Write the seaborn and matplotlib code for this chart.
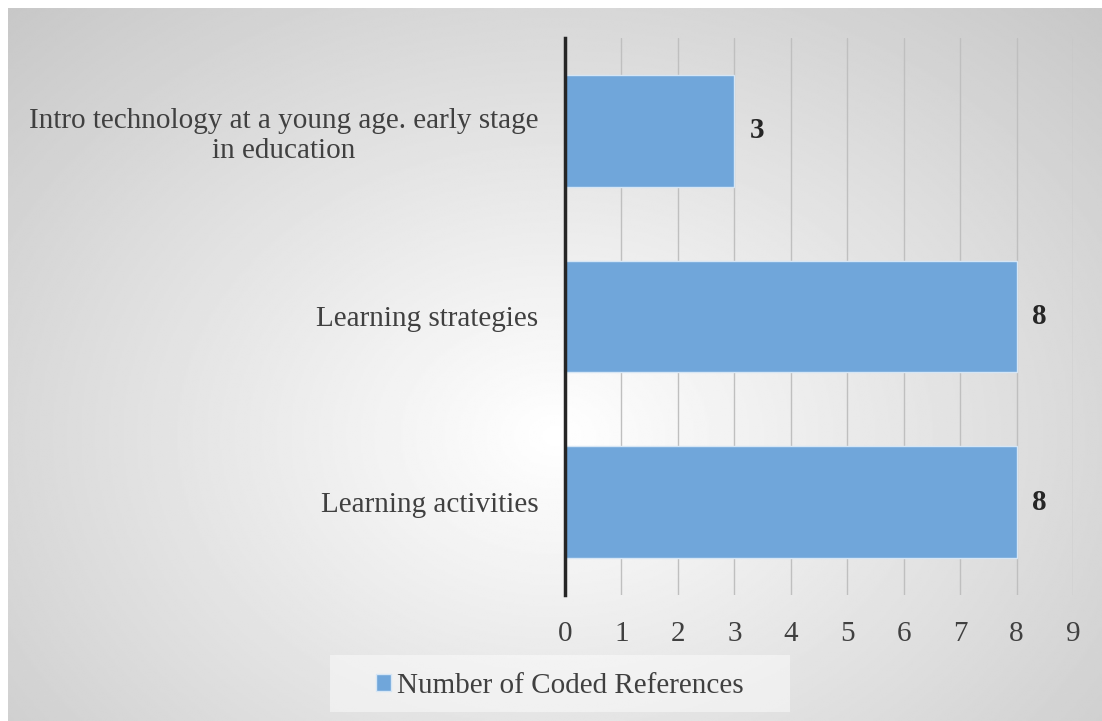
import numpy as np
import pandas as pd
import seaborn as sns
import matplotlib.pyplot as plt
from matplotlib.patches import Rectangle

# data
categories = ["Intro technology at a young age. early stage\nin education",
              "Learning strategies",
              "Learning activities"]
values = [3, 8, 8]
series_name = "Number of Coded References"
x_ticks = list(range(0, 10))

df = pd.DataFrame({"category": categories, "refs": values})

sns.set_theme(style="white")
plt.rcParams["font.family"] = ["Liberation Serif", "DejaVu Serif"]

fig = plt.figure(figsize=(11.02, 7.21), dpi=100)

# radial grey gradient behind the chart
bg = fig.add_axes([8 / 1102, 0, 1 - 8 / 1102, 1 - 8 / 721])
yy, xx = np.mgrid[0:1:400j, 0:1:600j]
d = np.sqrt(((xx - 0.5) / 0.72) ** 2 + ((yy - 0.6) / 0.85) ** 2)
shade = 1.0 - 0.22 * d
bg.imshow(shade, cmap="gray", vmin=0, vmax=1, aspect="auto",
          extent=[0, 1, 1, 0], interpolation="bilinear")
bg.axis("off")

# legend background box (wider than matplotlib's own padding)
bg.add_patch(Rectangle((330 / 1102, 1 - 712 / 721), 460 / 1102, 57 / 721,
                       transform=fig.transFigure, facecolor="#FFFFFF",
                       alpha=0.45, edgecolor="none", clip_on=False))

ax = fig.add_axes([565 / 1102, 1 - 595 / 721, (1073 - 565) / 1102, (595 - 38) / 721])
ax.set_facecolor("none")

sns.barplot(data=df, x="refs", y="category", orient="h", color="#70A6DA",
            width=0.6, edgecolor="#D6E6F5", linewidth=1, saturation=1,
            label=series_name, ax=ax, zorder=3)

ax.set_xlim(0, 9)
ax.set_ylim(2.5, -0.5)
ax.set_xticks(x_ticks)
ax.set_xlabel("")
ax.set_ylabel("")
ax.xaxis.grid(True, color="#BFBFBF", linewidth=1)
ax.set_axisbelow(True)
for s in ["top", "right", "bottom"]:
    ax.spines[s].set_visible(False)
ax.spines["left"].set_color("#262626")
ax.spines["left"].set_linewidth(2.5)
ax.spines["left"].set_zorder(5)
ax.tick_params(axis="both", length=0, labelsize=21, labelcolor="#404040")
ax.tick_params(axis="x", pad=19)
ax.tick_params(axis="y", pad=19)
for lbl in ax.get_yticklabels():
    lbl.set_horizontalalignment("right")
    lbl.set_multialignment("center")

ax.bar_label(ax.containers[0], padding=11, fontsize=21, fontweight="bold",
             color="#262626")

ax.legend(loc="center", bbox_to_anchor=(560 / 1102, 1 - 686 / 721),
          bbox_transform=fig.transFigure, frameon=False,
          fontsize=21, handlelength=0.5, handleheight=0.5,
          handletextpad=0.2, labelcolor="#404040")

fig.savefig("out.png", dpi=100)
